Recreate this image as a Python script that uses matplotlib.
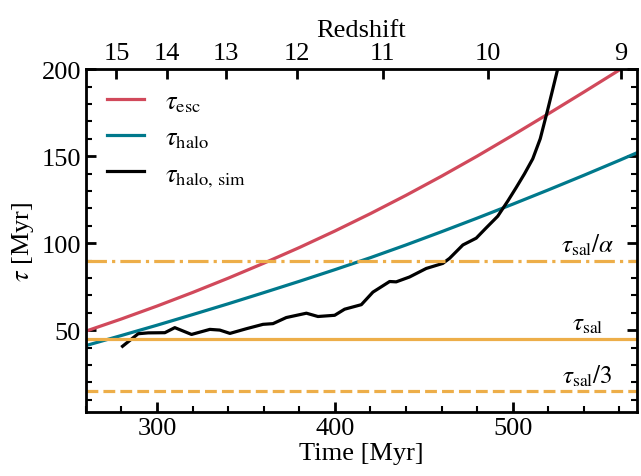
import numpy as np
import matplotlib
matplotlib.use("Agg")
import matplotlib.pyplot as plt
from matplotlib.ticker import MultipleLocator

plt.rcParams["font.family"] = ["Liberation Serif", "DejaVu Serif"]
plt.rcParams["mathtext.fontset"] = "stix"
plt.rcParams["font.size"] = 19

# escape time curve (Myr)
t_esc = [260, 280, 300, 320, 340, 360, 380, 400, 420, 440, 460, 480, 500, 520, 540, 560, 570]
tau_esc = [49.5, 56.5, 63.9, 71.7, 79.9, 88.5, 97.5, 107.0, 117.0, 127.5, 138.5, 150.0,
           162.0, 174.3, 186.8, 199.5, 205.9]

# halo time curve (Myr)
t_halo = [260, 280, 300, 320, 340, 360, 380, 400, 420, 440, 460, 480, 500, 520, 540, 560, 570]
tau_halo = [41.2, 47.0, 52.9, 59.0, 65.2, 71.6, 78.1, 84.8, 91.7, 99.0, 106.6, 114.4,
            122.4, 130.6, 139.0, 147.6, 152.0]

# halo time from simulation
t_sim = [280.6, 289.4, 295, 304.4, 310, 319.4, 329.7, 335.3, 341, 350.3, 359.6, 365.2,
         372.7, 384, 390.5, 399.9, 405.5, 414.9, 421.4, 430.8, 434.5, 442, 451.4, 460.7,
         464.5, 472, 479.5, 485, 491.6, 497.3, 502, 506.6, 511.3, 515.5, 519.7, 522.5,
         525.3, 528]
tau_sim = [40.8, 48, 48.5, 48.6, 51.5, 47.6, 50.5, 50.1, 48.2, 50.9, 53.4, 53.8,
           57.3, 59.8, 57.9, 58.6, 62.1, 64.7, 71.9, 78, 77.8, 80.6, 85.5, 88.4,
           91.3, 99, 102.9, 108.7, 115.5, 124.3, 132, 139.8, 148.5, 160, 176.7, 188.3,
           200, 212]

tau_sal = 45.0
alpha = 0.5

# redshift ticks on the top axis and the times they sit at
z_ticks = [15, 14, 13, 12, 11, 10, 9]
z_times = [277.2, 305.4, 338.7, 378.5, 426.8, 486.3, 561.0]

c_red = "#d1495b"
c_teal = "#00798c"
c_orange = "#edae49"
lw = 2.3


def main():
  fig = plt.figure(figsize=(6.41, 4.77), dpi=100)
  ax = fig.add_axes([0.134, 0.134, 0.860, 0.719])

  ax.plot(t_esc, tau_esc, color=c_red, lw=lw, label=r"$\tau_{\rm esc}$")
  ax.plot(t_halo, tau_halo, color=c_teal, lw=lw, label=r"$\tau_{\rm halo}$")
  ax.plot(t_sim, tau_sim, color="black", lw=lw, label=r"$\tau_{\rm halo,\,sim}$")

  ax.axhline(tau_sal / alpha, color=c_orange, lw=lw, ls="-.")
  ax.axhline(tau_sal, color=c_orange, lw=lw, ls="-")
  ax.axhline(tau_sal / 3, color=c_orange, lw=lw, ls="--")

  x_lab = 542
  ax.text(x_lab, tau_sal / alpha + 2, r"$\tau_{\rm sal}/\alpha$", ha="center", va="bottom", fontsize=18)
  ax.text(x_lab, tau_sal + 2, r"$\tau_{\rm sal}$", ha="center", va="bottom", fontsize=18)
  ax.text(x_lab, tau_sal / 3 + 2, r"$\tau_{\rm sal}/3$", ha="center", va="bottom", fontsize=18)

  ax.set_xlim(260, 570)
  ax.set_ylim(3, 200)
  ax.xaxis.set_major_locator(MultipleLocator(100))
  ax.xaxis.set_minor_locator(MultipleLocator(20))
  ax.yaxis.set_major_locator(MultipleLocator(50))
  ax.yaxis.set_minor_locator(MultipleLocator(10))
  ax.tick_params(which="both", direction="in", top=False, right=True, width=2)
  ax.tick_params(which="major", length=7)
  ax.tick_params(which="minor", length=4, width=1.5)
  for s in ax.spines.values():
    s.set_linewidth(2)

  ax.set_xlabel("Time [Myr]", labelpad=2)
  ax.set_ylabel(r"$\tau$ [Myr]", labelpad=4)

  ax.legend(loc="upper left", frameon=False, handlelength=1.4, handletextpad=0.8,
            labelspacing=0.45, borderaxespad=0.4)

  # redshift axis on top
  ax2 = ax.twiny()
  ax2.set_xlim(ax.get_xlim())
  ax2.set_xticks(z_times)
  ax2.set_xticklabels([str(z) for z in z_ticks])
  ax2.tick_params(direction="in", length=7, width=2, pad=4)
  ax2.set_xlabel("Redshift", labelpad=4)

  fig.savefig("out.png", dpi=100)


if __name__ == "__main__":
  main()
